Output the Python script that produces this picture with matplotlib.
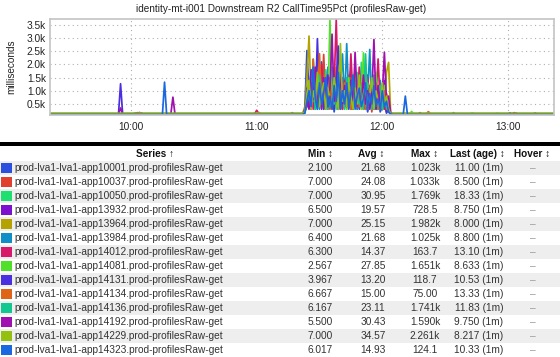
import numpy as np
import matplotlib
matplotlib.use('Agg')
import matplotlib.pyplot as plt
from matplotlib.patches import Rectangle

plt.rcParams['font.family'] = ['Liberation Sans', 'DejaVu Sans']

title = 'identity-mt-i001 Downstream R2 CallTime95Pct (profilesRaw-get)'

hosts = ['app10001', 'app10037', 'app10050', 'app13932', 'app13964', 'app13984', 'app14012',
         'app14081', 'app14131', 'app14134', 'app14136', 'app14192', 'app14229', 'app14323']
series_names = ['prod-lva1-lva1-%s.prod-profilesRaw-get' % h for h in hosts]
colors = ['#2b50e0', '#e0402e', '#1ee070', '#7d0fcf', '#b3a200', '#0f8fc8', '#d81868',
          '#4fe02a', '#4a2fe0', '#e06418', '#10c890', '#a00fb0', '#94c010', '#1a68e0']

col_min = ['2.100', '7.000', '7.000', '6.500', '7.000', '6.400', '6.300',
           '2.567', '3.967', '6.667', '6.167', '5.500', '7.000', '6.017']
col_avg = ['21.68', '24.08', '30.95', '19.57', '25.15', '21.68', '14.37',
           '27.85', '13.20', '15.00', '23.11', '30.43', '34.57', '14.93']
col_max = ['1.023k', '1.033k', '1.769k', '728.5', '1.982k', '1.025k', '163.7',
           '1.651k', '118.7', '75.00', '1.741k', '1.590k', '2.261k', '124.1']
col_last = ['11.00 (1m)', '8.500 (1m)', '18.33 (1m)', '8.750 (1m)', '8.000 (1m)', '8.800 (1m)',
            '13.10 (1m)', '8.633 (1m)', '10.53 (1m)', '13.33 (1m)', '11.83 (1m)', '9.750 (1m)',
            '8.217 (1m)', '10.33 (1m)']

# chart data, one point per minute from 09:21 to 13:22
t_start, t_end = '09:21', '13:22'
baseline = [110, 120, 130, 105, 140, 115, 125, 100, 108, 135, 118, 112, 145, 102]
burst_start = '11:23'
burst = [
    [300, 2530, 900, 1500, 400, 1800, 700, 1200, 2100, 500, 1400, 300, 900, 1600, 200, 800, 1300, 400, 1100, 600,
     1500, 300, 700, 1200, 400, 900, 300, 1000, 500, 800, 200, 600, 1100, 300, 500, 900, 200, 400, 700, 150, 300, 120],
    [200, 600, 1300, 500, 1700, 300, 1100, 800, 400, 2380, 600, 1200, 300, 1000, 1500, 400, 700, 1300, 300, 900,
     500, 1600, 400, 800, 1200, 300, 1400, 600, 300, 1100, 500, 900, 200, 1300, 400, 700, 1000, 300, 600, 200, 400, 130],
    [150, 900, 400, 1200, 600, 300, 1500, 500, 1000, 300, 1800, 700, 400, 1300, 900, 300, 1600, 500, 1100, 400,
     800, 1400, 300, 1000, 600, 1700, 400, 2080, 500, 900, 300, 1200, 600, 400, 1500, 300, 800, 1100, 300, 600, 250, 140],
    [250, 400, 1100, 300, 800, 1400, 400, 1900, 600, 1000, 300, 1300, 800, 400, 1700, 500, 900, 300, 1500, 700,
     400, 1100, 1800, 300, 900, 500, 1300, 400, 1000, 300, 1600, 500, 800, 300, 1200, 400, 900, 300, 1400, 500, 200, 110],
    [400, 1500, 3080, 700, 1300, 400, 2000, 600, 1100, 300, 1600, 900, 400, 1200, 700, 1900, 300, 1000, 600, 1400,
     300, 900, 1500, 500, 1100, 400, 800, 1300, 300, 1000, 600, 400, 1500, 700, 300, 1200, 500, 900, 300, 1700, 2080, 160],
    [180, 700, 1300, 400, 2200, 600, 1000, 300, 1400, 800, 500, 1900, 400, 1000, 600, 1500, 300, 1200, 2400, 500,
     2790, 700, 1000, 400, 1600, 300, 900, 1300, 500, 1800, 800, 2570, 400, 1100, 600, 300, 1400, 500, 800, 300, 500, 120],
    [220, 500, 1000, 1700, 300, 900, 1300, 500, 2000, 700, 1100, 400, 1500, 800, 1200, 3700, 600, 1000, 300, 1400,
     900, 500, 2400, 700, 1300, 400, 1900, 600, 1000, 300, 1500, 700, 1100, 400, 800, 2210, 500, 1200, 300, 900, 400, 150],
    [200, 800, 400, 1400, 600, 1000, 300, 1700, 500, 1200, 800, 400, 3680, 700, 1300, 400, 1000, 1800, 500, 1100,
     300, 1500, 700, 400, 1900, 600, 1000, 300, 2440, 800, 1300, 400, 1000, 600, 1700, 300, 900, 500, 1200, 300, 400, 130],
    [300, 1100, 500, 1800, 900, 400, 2980, 700, 1200, 300, 1000, 1600, 500, 900, 300, 1400, 2700, 600, 1100, 400,
     1300, 700, 300, 1500, 500, 1000, 400, 1200, 600, 300, 1100, 500, 800, 1400, 300, 700, 1000, 400, 600, 200, 300, 115],
    [250, 700, 1200, 500, 2200, 800, 400, 2410, 600, 1300, 400, 900, 1500, 300, 1100, 600, 1400, 400, 800, 1300,
     500, 1000, 300, 1600, 700, 1200, 400, 900, 1500, 300, 800, 1100, 400, 700, 1300, 300, 900, 500, 1000, 300, 350, 140],
    [160, 500, 1000, 600, 1400, 300, 900, 1600, 400, 1100, 700, 300, 1200, 1900, 500, 1000, 400, 1300, 700, 300,
     1500, 600, 1100, 300, 1400, 800, 500, 1200, 300, 2400, 600, 1000, 300, 1600, 500, 900, 1200, 300, 700, 400, 250, 125],
    [200, 600, 300, 1300, 700, 1900, 500, 1000, 300, 1500, 800, 400, 1100, 3150, 600, 1000, 300, 1700, 500, 1200,
     400, 900, 1400, 300, 2460, 700, 1100, 400, 1600, 500, 1000, 300, 800, 2950, 500, 1200, 400, 900, 2460, 600, 800, 150],
    [180, 900, 1400, 300, 1000, 600, 1700, 400, 900, 1300, 300, 1100, 700, 400, 1500, 900, 300, 2790, 600, 1000,
     400, 1300, 800, 300, 1100, 500, 1600, 300, 900, 1200, 400, 800, 1500, 300, 1000, 600, 300, 1300, 500, 800, 300, 135],
    [150, 600, 1000, 400, 1900, 700, 300, 1300, 500, 900, 1500, 400, 800, 300, 1200, 600, 1700, 300, 1000, 500,
     1300, 400, 900, 1600, 300, 800, 1100, 400, 700, 1300, 300, 900, 500, 1200, 400, 700, 300, 1000, 400, 600, 200, 120],
]
# isolated spikes outside the burst: (time, series index, value)
spikes = [
    ('09:55', 8, 1270), ('09:55', 11, 350),
    ('10:02', 0, 160), ('10:03', 6, 170), ('10:04', 1, 180), ('10:05', 11, 150),
    ('10:16', 13, 1330), ('10:20', 11, 760),
    ('11:00', 6, 260), ('11:01', 9, 180), ('11:17', 3, 170),
    ('12:11', 13, 800), ('12:14', 7, 220), ('12:18', 3, 170), ('12:22', 9, 210),
    ('12:34', 0, 170), ('12:43', 2, 160), ('12:55', 2, 150),
    ('13:01', 11, 160), ('13:03', 6, 170), ('13:04', 3, 150), ('13:13', 3, 160),
]

hour_ticks = ['10:00', '11:00', '12:00', '13:00']
y_ticks = [500, 1000, 1500, 2000, 2500, 3000, 3500]
y_tick_labels = ['0.5k', '1.0k', '1.5k', '2.0k', '2.5k', '3.0k', '3.5k']


def to_min(s):
    h, m = s.split(':')
    return int(h) * 60 + int(m)


t = np.arange(to_min(t_start), to_min(t_end) + 1)
vals = np.array(baseline, dtype=float)[:, None] * np.ones(len(t))
b0 = to_min(burst_start) - t[0]
for i, b in enumerate(burst):
    vals[i, b0:b0 + len(b)] = b
for tm, i, v in spikes:
    vals[i, to_min(tm) - t[0]] = v

W, H = 560, 357
fig = plt.figure(figsize=(W / 100, H / 100), dpi=100)
fig.patch.set_facecolor('white')

# --- chart ---
ax = fig.add_axes([50 / W, 1 - 115 / H, 504 / W, 96 / H])
for i in range(len(series_names)):
    ax.plot(t, vals[i], color=colors[i], lw=1.25)
ax.set_xlim(t[0] + 0.3, t[-1])
ax.set_ylim(82, 3728)
ax.set_xticks([to_min(s) for s in hour_ticks])
ax.set_xticklabels(hour_ticks)
ax.set_yticks(y_ticks)
ax.set_yticklabels(y_tick_labels)
ax.tick_params(length=0, labelsize=7.3, colors='#222222')
ax.tick_params(axis='x', pad=5)
ax.tick_params(axis='y', pad=3)
ax.grid(True, color='#b0b0b0', lw=0.8, linestyle=(0, (1, 3)))
for sp in ax.spines.values():
    sp.set_color('#c4c4c4')
    sp.set_linewidth(1.2)
fig.text(281 / W, 1 - 9 / H, title, ha='center', va='center', fontsize=7.2, color='#222222')
fig.text(11.5 / W, 1 - 67 / H, 'milliseconds', rotation=90, ha='center', va='center',
         fontsize=7.2, color='#222222')

# --- table ---
tb = fig.add_axes([0, 0, 1, 1], zorder=-1)
tb.set_xlim(0, W)
tb.set_ylim(H, 0)
tb.axis('off')
tb.add_patch(Rectangle((0, 141.5), W, 4.5, color='black', lw=0))
header = ['Series \u2191', 'Min \u2195', 'Avg \u2195', 'Max \u2195', 'Last (age) \u2195', 'Hover \u2195']
header_x = [155, 321, 371.5, 425, 477.5, 532.5]
for hx, ht in zip(header_x, header):
    tb.text(hx, 154, ht, ha='center', va='center', fontsize=7.2, fontweight='bold', color='#111111')

col_x = [320, 373, 425, 479, 533]
for r in range(len(series_names)):
    yc = 168 + 14 * r
    if r % 2 == 0:
        tb.add_patch(Rectangle((0, yc - 7), W, 14, color='#eeeeee', lw=0))
    tb.add_patch(Rectangle((1, yc - 5), 11, 10, color=colors[r], lw=0))
    tb.text(14, yc, series_names[r], ha='left', va='center', fontsize=7.25, color='#333333')
    row = [col_min[r], col_avg[r], col_max[r], col_last[r], '\u2013']
    for cx, v in zip(col_x, row):
        tb.text(cx, yc, v, ha='center', va='center', fontsize=7.25,
                color='#999999' if v == '\u2013' else '#333333')

fig.savefig('out.png', dpi=100)
